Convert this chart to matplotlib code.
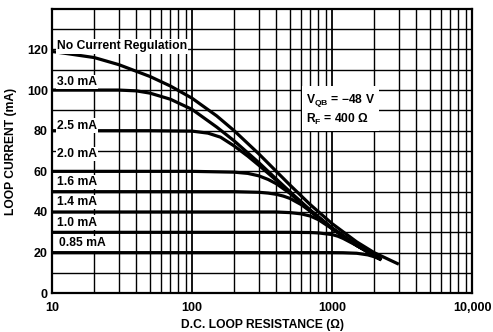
import matplotlib
matplotlib.use("Agg")
import matplotlib.pyplot as plt
import numpy as np

plt.rcParams['font.family'] = ['Liberation Sans', 'DejaVu Sans']
plt.rcParams['mathtext.fontset'] = 'custom'
plt.rcParams['mathtext.rm'] = 'Liberation Sans:bold'
plt.rcParams['mathtext.bf'] = 'Liberation Sans:bold'

# curve values (R in ohms, I in mA)
r_noreg = [10, 20, 30, 50, 70, 100, 150, 200, 300, 500, 700, 1000, 1500, 2000, 3000]
i_noreg = [119, 116, 112.5, 106.7, 102, 96, 87.3, 80, 68.6, 53.3, 43.6, 34.3, 25.3, 20, 14.3]

r_30 = [10, 20, 30, 40, 50, 70, 100, 150, 200, 300, 400, 500, 700, 1000, 1500, 2000, 2250]
i_30 = [100, 100, 100, 99.6, 98.5, 95.5, 90.5, 81.8, 75, 64.3, 56.2, 50, 40.9, 32.1, 23.7, 18.75, 16.6]

r_25 = [10, 50, 100, 130, 160, 200, 250, 300, 400, 500, 700, 1000, 1500, 2000, 2250]
i_25 = [80, 80, 79.8, 78.8, 76.8, 72.5, 67.5, 63, 55.6, 49.6, 40.7, 32, 23.6, 18.7, 16.5]

r_20 = [10, 100, 200, 250, 300, 350, 400, 500, 700, 1000, 1500, 2000, 2250]
i_20 = [60, 60, 59.6, 59, 57.8, 56, 53.9, 49.2, 40.4, 31.9, 23.5, 18.6, 16.5]

r_16 = [10, 200, 300, 350, 400, 450, 500, 600, 700, 1000, 1500, 2000, 2250]
i_16 = [50, 50, 49.7, 49.3, 48.7, 47.8, 46.7, 43.7, 40.4, 32, 23.6, 18.6, 16.5]

r_14 = [10, 400, 500, 600, 700, 800, 1000, 1200, 1500, 2000, 2250]
i_14 = [40, 40, 39.7, 39.1, 38, 36.2, 31.8, 28, 23.6, 18.6, 16.5]

r_10 = [10, 500, 700, 800, 1000, 1100, 1200, 1500, 2000, 2250]
i_10 = [30, 30, 29.9, 29.7, 28.9, 28.1, 27, 23.5, 18.6, 16.5]

r_085 = [10, 1000, 1200, 1500, 1800, 2000, 2250]
i_085 = [20, 20, 19.95, 19.7, 18.9, 18, 16.5]

labels = ['No Current Regulation', '3.0 mA', '2.5 mA', '2.0 mA', '1.6 mA', '1.4 mA', '1.0 mA', '0.85 mA']
label_y = [121.5, 104, 82.5, 68.5, 54.8, 45, 34.7, 24.5]

fig = plt.figure(figsize=(4.93, 3.32), dpi=100)
ax = fig.add_axes([0.1055, 0.1166, 0.852, 0.857])
ax.set_xscale('log')
ax.set_xlim(10, 10000)
ax.set_ylim(0, 140)

# grid
for dec in [10, 100, 1000]:
    for k in range(2, 10):
        ax.axvline(dec * k, color='black', lw=1.0, zorder=1)
for d in [100, 1000]:
    ax.axvline(d, color='black', lw=1.3, zorder=1)
for y in range(10, 140, 10):
    ax.axhline(y, color='black', lw=1.0, zorder=1)

curves = [(r_noreg, i_noreg), (r_30, i_30), (r_25, i_25), (r_20, i_20),
          (r_16, i_16), (r_14, i_14), (r_10, i_10), (r_085, i_085)]
for r, i in curves:
    ax.plot(r, i, color='black', lw=2.3, solid_capstyle='butt', zorder=3)

for lab, y in zip(labels, label_y):
    x = 11.3 if lab == '0.85 mA' else 10.85
    ax.text(x, y, lab, fontsize=8.7, fontweight='bold', va='center', ha='left', zorder=4,
            bbox=dict(facecolor='white', edgecolor='none', pad=1.0))

ax.text(650, 99, r'V$_{\mathregular{QB}}$ = $-$48 V' + '\n' + r'R$_{\mathregular{F}}$ = 400 $\Omega$',
        fontsize=8.7, fontweight='bold', va='top', ha='left', linespacing=1.25, zorder=4,
        bbox=dict(facecolor='white', edgecolor='none', pad=3))

ax.set_yticks(np.arange(0, 121, 20))
ax.set_xticks([10, 100, 1000, 10000])
ax.set_xticklabels(['10', '100', '1000', '10,000'])
ax.minorticks_off()
ax.tick_params(axis='y', length=0, labelsize=9, pad=3)
ax.tick_params(axis='x', length=0, labelsize=9, pad=6)
for lab in ax.get_xticklabels() + ax.get_yticklabels():
    lab.set_fontweight('bold')

for s in ax.spines.values():
    s.set_linewidth(1.6)
    s.set_zorder(5)

ax.set_xlabel('D.C. LOOP RESISTANCE (\u03a9)', fontsize=8.7, fontweight='bold', labelpad=4)
ax.set_ylabel('LOOP CURRENT (mA)', fontsize=8.7, fontweight='bold', labelpad=7)

fig.savefig('out.png', dpi=100)
